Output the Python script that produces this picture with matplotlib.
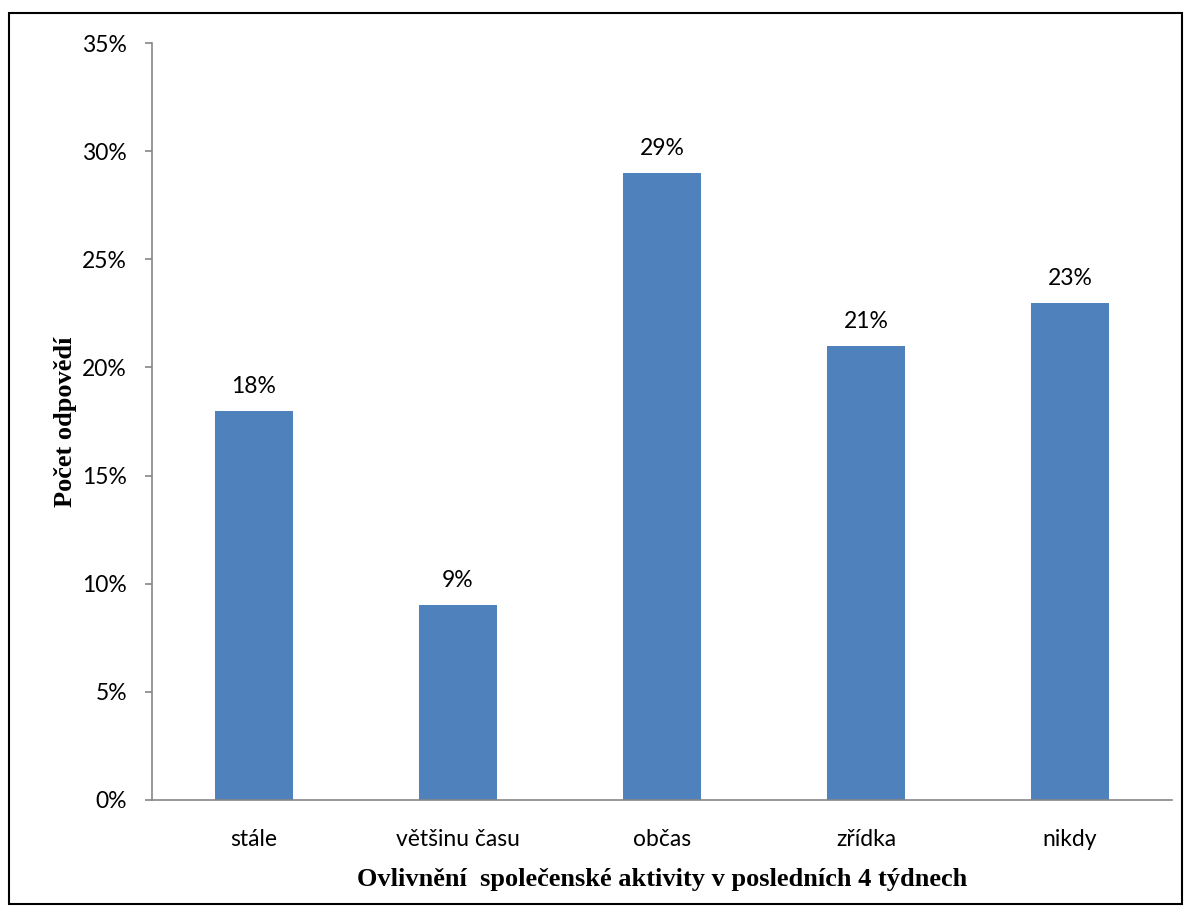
import matplotlib.pyplot as plt
from matplotlib.patches import Rectangle
import numpy as np

categories = ["stále", "většinu času", "občas", "zřídka", "nikdy"]
values = [18, 9, 29, 21, 23]
yticks = [0, 5, 10, 15, 20, 25, 30, 35]

fig = plt.figure(figsize=(11.91, 9.14), dpi=100)
ax = fig.add_axes([152 / 1191, 1 - 800 / 914, 1020 / 1191, 757 / 914])

x = np.arange(len(categories))
bars = ax.bar(x, values, width=0.38, color="#4F81BD", zorder=2)

for b, v in zip(bars, values):
    ax.annotate(f"{v}%", (b.get_x() + b.get_width() / 2, v),
                xytext=(0, 10), textcoords="offset points",
                ha="center", va="bottom", fontsize=16.5, family="Lato")

ax.set_xlim(-0.5, len(categories) - 0.5)
ax.set_ylim(0, 35)
ax.set_yticks(yticks)
ax.set_yticklabels([f"{t}%" for t in yticks], fontsize=16.5, family="Lato")
ax.set_xticks(x)
ax.set_xticklabels(categories, fontsize=16.5, family="Lato")
ax.tick_params(axis="x", length=0, pad=21)
ax.tick_params(axis="y", length=5, color="#868686", width=1.2, pad=13)

for s in ["top", "right"]:
    ax.spines[s].set_visible(False)
for s in ["left", "bottom"]:
    ax.spines[s].set_color("#868686")
    ax.spines[s].set_linewidth(1.2)

ax.set_ylabel("Počet odpovědí", fontsize=19, fontweight="bold",
              family="Liberation Serif", labelpad=4)
ax.set_xlabel("Ovlivnění  společenské aktivity v posledních 4 týdnech",
              fontsize=19, fontweight="bold", family="Liberation Serif",
              labelpad=13)

# frame around the whole chart
fig.patches.append(Rectangle((9 / 1191, 1 - 904 / 914), 1173 / 1191, 891 / 914,
                             transform=fig.transFigure, fill=False,
                             edgecolor="black", linewidth=1.5))

fig.savefig("out.png", dpi=100)
